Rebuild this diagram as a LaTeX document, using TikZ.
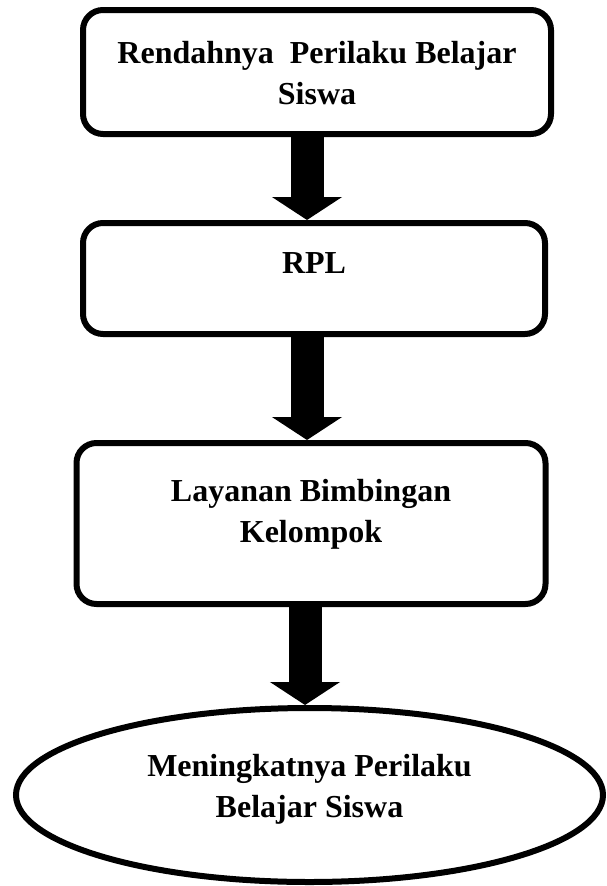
\documentclass[tikz,border=0pt]{standalone}
\usepackage{fontspec}
\setmainfont{Liberation Serif}
\usetikzlibrary{arrows.meta,shapes.geometric}
\tikzset{
  boxshape/.style={draw=black, line width=6pt, rounded corners=20pt, inner sep=0pt},
  ovalshape/.style={draw=black, ellipse, line width=6pt, inner sep=0pt},
  lbl/.style={align=center, font=\bfseries\fontsize{32}{41}\selectfont, inner sep=0pt},
  bigarrow/.style={line width=33pt, -{Triangle[width=69pt,length=23pt]}}
}
\begin{document}
\begin{tikzpicture}[x=1pt,y=-1pt]
\useasboundingbox (0,0) rectangle (606,886);
\node[boxshape, minimum width=468pt, minimum height=124pt] (b1) at (317,72) {};
\node[boxshape, minimum width=462pt, minimum height=111pt] (b2) at (314,278.5) {};
\node[boxshape, minimum width=469pt, minimum height=161pt] (b3) at (311,523.5) {};
\node[ovalshape, minimum width=587pt, minimum height=174pt] (e1) at (309.5,795) {};

\node[lbl] (t1) at (317,73.5) {Rendahnya\ \ Perilaku Belajar\\Siswa};
\node[lbl, anchor=base] (t2) at (314,273) {RPL};
\node[lbl] (t3) at (311,514) {Layanan Bimbingan\\Kelompok};
\node[lbl] (t4) at (309.5,789) {Meningkatnya Perilaku\\Belajar Siswa};

\coordinate (ax1) at (307,0);
\coordinate (ax2) at (307,0);
\coordinate (ax3) at (305,0);
\draw[bigarrow] (b1.south -| ax1) -- (b2.north -| ax1);
\draw[bigarrow] (b2.south -| ax2) -- (b3.north -| ax2);
\draw[bigarrow] (b3.south -| ax3) -- (e1.north -| ax3);
\end{tikzpicture}
\end{document}
